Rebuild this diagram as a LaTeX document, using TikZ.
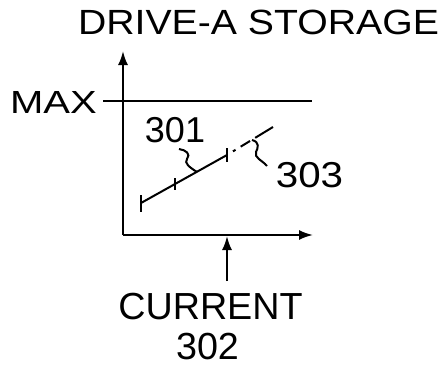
\documentclass[tikz,border=0pt]{standalone}
\usepackage{fontspec}
\setmainfont{Liberation Sans}
\newfontfamily\widefont[FakeStretch=1.12]{Liberation Sans}
\newfontfamily\widerfont[FakeStretch=1.25]{Liberation Sans}
\usetikzlibrary{arrows.meta}

\begin{document}
\begin{tikzpicture}[x=1pt,y=-1pt]%
  \tikzstyle{axis}=[line width=2pt,-{Latex[length=14pt,width=10pt]}]
  \tikzstyle{lin}=[line width=2pt]
  \tikzstyle{tickn}=[line width=2.6pt]
  \tikzstyle{lbl}=[inner sep=0,font=\fontsize{36}{40}\selectfont]
  \useasboundingbox (0,0) rectangle (445,372);
  \coordinate (o) at (123,235);
  \coordinate (ytop) at (123,51);
  \coordinate (xend) at (313,235);
  \coordinate (maxl) at (103,101);
  \coordinate (maxr) at (312,101);
  \coordinate (p0) at (141,203);
  \coordinate (p1) at (175,184);
  \coordinate (p2) at (227,155);
  \coordinate (p3) at (273,127);
  \coordinate (a301) at (179,149);
  \coordinate (l301) at (197,172);
  \coordinate (a303) at (267,166);
  \coordinate (l303) at (252,140);
  \coordinate (cb) at (227,281);
  \coordinate (ct) at (227,236);
  \node(title)[lbl,font=\widefont\fontsize{35}{40}\selectfont] at (258.5,22.5) {DRIVE-A STORAGE};
  \node(max)[lbl,font=\widerfont\fontsize{32}{36}\selectfont] at (53.5,102) {MAX};
  \node(n301)[lbl] at (175,130) {301};
  \node(n303)[lbl,font=\widefont\fontsize{36}{40}\selectfont] at (309.5,175) {303};
  \node(current)[lbl,font=\fontsize{37.7}{42}\selectfont] at (210.5,306.5) {CURRENT};
  \node(n302)[lbl,font=\fontsize{37.7}{42}\selectfont] at (207.5,346.5) {302};
  \draw[axis] (o) -- (ytop);
  \draw[axis] (o) -- (xend);
  \draw[lin] (maxl) -- (maxr);
  \draw[lin] (p0) -- (p2);
  \draw[lin,dash pattern=on 0pt off 7pt on 3pt off 6pt on 11pt off 6pt on 20pt] (p2) -- (p3);
  \draw[tickn] (p0) ++(0,-8) -- ++(0,17);
  \draw[lin] (p1) ++(0,-6) -- ++(0,12);
  \draw[lin] (p2) ++(0,-7) -- ++(0,14);
  \draw[lin] (a301) .. controls (186,150) and (191,154) .. (187,159) .. controls (184,163) and (189,167) .. (l301);
  \draw[lin] (l303) .. controls (260,142) and (258,148) .. (256,152) .. controls (254,158) and (262,160) .. (a303);
  \draw[axis] (cb) -- (ct);
\end{tikzpicture}
\end{document}
